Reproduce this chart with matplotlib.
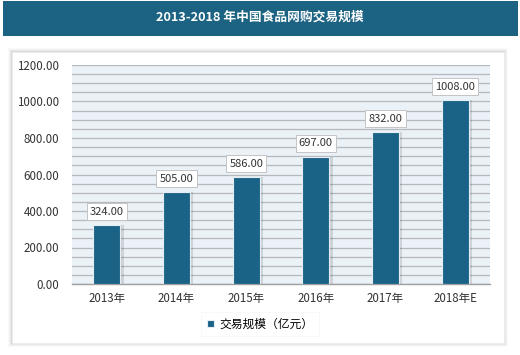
import numpy as np
import matplotlib.pyplot as plt
from matplotlib.patches import Rectangle

plt.rcParams['font.family'] = ['Noto Sans CJK SC', 'DejaVu Sans']

years = ['2013年', '2014年', '2015年', '2016年', '2017年', '2018年E']
values = [324.00, 505.00, 586.00, 697.00, 832.00, 1008.00]
title = '2013-2018 年中国食品网购交易规模'
series_name = '交易规模（亿元）'

bar_color = '#1b6386'

fig = plt.figure(figsize=(5.2, 3.55), dpi=100)
fig.patch.set_facecolor('white')

# title band
fig.patches.append(Rectangle((3 / 520, 1 - 36 / 355), 515 / 520, 35 / 355,
                             transform=fig.transFigure, facecolor='#1b6283',
                             edgecolor='none', zorder=-5))
fig.text(0.5, 1 - 17 / 355, title, color='white', fontsize=9.2,
         fontweight='bold', ha='center', va='center')

# white panel with soft shadow
for i, a in enumerate([0.02, 0.03, 0.04, 0.06]):
    d = 4 - i
    fig.patches.append(Rectangle(((12 - d) / 520, 1 - (343 + d) / 355),
                                 (492 + 2 * d) / 520, (291 + 2 * d) / 355,
                                 transform=fig.transFigure, facecolor='black',
                                 alpha=a, edgecolor='none', zorder=-5))
fig.patches.append(Rectangle((12 / 520, 1 - 343 / 355), 492 / 520, 291 / 355,
                             transform=fig.transFigure, facecolor='white',
                             edgecolor='#ececec', lw=0.5, zorder=-4))

ax = fig.add_axes([72 / 520, 71 / 355, 418 / 520, 219 / 355])
ax.set_zorder(2)
ax.set_facecolor('#eaf1f7')
x = np.arange(len(years))

# bar shadows
ax.bar(x + 0.03, values, width=0.42, color='black', alpha=0.12, zorder=2)
bars = ax.bar(x, values, width=0.39, color=bar_color, edgecolor='#e6eef4',
              lw=0.8, zorder=3, label=series_name)

for xi, v in zip(x, values):
    ax.annotate(f'{v:.2f}', (xi, v), xytext=(0, 6), textcoords='offset points',
                ha='center', va='bottom', fontsize=8, color='#333333',
                bbox=dict(boxstyle='square,pad=0.3', fc='white', ec='#c4c4c4', lw=0.7),
                zorder=5)

ax.set_xlim(-0.5, 5.5)
ax.set_ylim(0, 1200)
ax.set_yticks(np.arange(0, 1201, 200))
ax.set_yticklabels([f'{t:.2f}' for t in np.arange(0, 1201, 200)])
ax.set_yticks(np.arange(0, 1201, 50), minor=True)
ax.grid(axis='y', which='both', color='#b5b9bd', lw=0.9, zorder=1)
ax.set_axisbelow(True)
ax.set_xticks(x)
ax.set_xticklabels(years)
ax.tick_params(axis='both', length=0, labelsize=8.3, colors='#333333')
ax.tick_params(axis='y', which='minor', length=0)
ax.tick_params(axis='y', pad=9)
ax.tick_params(axis='x', pad=6)
for s in ['left', 'right', 'top']:
    ax.spines[s].set_visible(False)
ax.spines['bottom'].set_color('#a0a0a0')
ax.spines['bottom'].set_linewidth(1.0)

leg = fig.legend(handles=[bars], labels=[series_name], loc='center',
                 bbox_to_anchor=(260 / 520, 1 - 324 / 355), frameon=True,
                 fontsize=8.5, handlelength=0.6, handleheight=0.6,
                 handletextpad=0.5, borderpad=0.5, fancybox=False)
leg.get_frame().set_edgecolor('#f4f4f4')
leg.get_frame().set_linewidth(0.5)
leg.set_zorder(3)

fig.savefig('out.png', dpi=100)
